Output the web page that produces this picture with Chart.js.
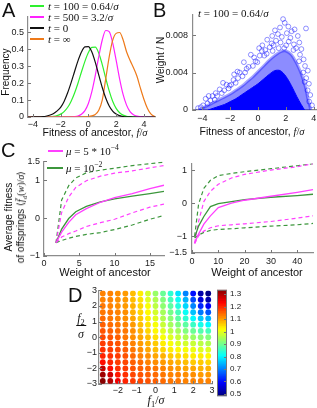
<!DOCTYPE html>
<html>
<head>
<meta charset="utf-8">
<script src="https://cdn.jsdelivr.net/npm/chart.js@4.4.0/dist/chart.umd.min.js"></script>
<style>
body{margin:0;width:317px;height:408px;position:relative;overflow:hidden;background:#fff;font-family:'Liberation Sans',Arial,sans-serif;color:#111}
canvas{position:absolute}
.t{position:absolute;white-space:nowrap;line-height:1}
.c{transform:translate(-50%,-50%)}
.lc{transform:translate(0,-50%)}
.r{transform:translate(-50%,-50%) rotate(-90deg)}
.m{font-family:'Liberation Serif','Times New Roman',serif}
.L{position:absolute;font-size:20px;line-height:1}
.ln{position:absolute;height:2px}
sub,sup{font-size:70%;line-height:0}
</style>
</head>
<body>
<div class="L" style="left:2px;top:0px">A</div>
<div class="L" style="left:153px;top:0px">B</div>
<div class="L" style="left:1px;top:140px">C</div>
<div class="L" style="left:68px;top:285px">D</div>

<!-- panel A legend -->
<div class="ln" style="left:30px;top:5px;width:14px;background:#2ef02e"></div>
<div class="t m lc" style="left:48px;top:6px;font-size:11px"><i>t</i> = 100 = 0.64/<i>σ</i></div>
<div class="ln" style="left:30px;top:16px;width:14px;background:#ff22ff"></div>
<div class="t m lc" style="left:48px;top:17px;font-size:11px"><i>t</i> = 500 = 3.2/<i>σ</i></div>
<div class="ln" style="left:30px;top:27px;width:14px;background:#111"></div>
<div class="t m lc" style="left:48px;top:28px;font-size:11px"><i>t</i> = 0</div>
<div class="ln" style="left:30px;top:38px;width:14px;background:#ee7a1a"></div>
<div class="t m lc" style="left:48px;top:39px;font-size:11px"><i>t</i> = ∞</div>

<div class="t r" style="left:6px;top:72px;font-size:10px">Frequency</div>
<div class="t c" style="left:95px;top:133px;font-size:10.5px">Fitness of ancestor, <span class="m"><i>f</i>/<i>σ</i></span></div>

<!-- panel B -->
<div class="t m lc" style="left:198px;top:13px;font-size:11px"><i>t</i> = 100 = 0.64/<i>σ</i></div>
<div class="t r" style="left:161px;top:60px;font-size:10px">Weight / N</div>
<div class="t c" style="left:252px;top:132px;font-size:10.5px">Fitness of ancestor, <span class="m"><i>f</i>/<i>σ</i></span></div>

<!-- panel C -->
<div class="ln" style="left:48px;top:150px;width:15px;height:1.5px;background:#ff40ff"></div>
<div class="t m lc" style="left:66px;top:151px;font-size:11px"><i>μ</i> = 5 * 10<sup>−4</sup></div>
<div class="ln" style="left:47px;top:167px;width:16px;background:#3c963c"></div>
<div class="t m lc" style="left:66px;top:168px;font-size:11px"><i>μ</i> = 10<sup>−2</sup></div>
<div class="t r" style="left:9px;top:217px;font-size:10px">Average fitness</div>
<div class="t r" style="left:21px;top:217px;font-size:10px">of offsprings <span class="m">⟨<i>f̄</i><sub>d</sub>(<i>w</i>)/<i>σ</i>⟩</span></div>
<div class="t c" style="left:105px;top:272px;font-size:11px">Weight of ancestor</div>
<div class="t c" style="left:257px;top:272px;font-size:11px">Weight of ancestor</div>

<!-- panel D -->
<div class="t m c" style="left:81px;top:326px;font-size:12px;text-align:center">
  <div style="border-bottom:1px solid #111;padding:0 1px 1px"><i>f</i><sub>2</sub></div>
  <div style="padding-top:2px"><i>σ</i></div>
</div>
<div class="t m c" style="left:156px;top:400px;font-size:12px"><i>f</i><sub>1</sub>/<i>σ</i></div>

<script>
// ---------- data ----------
// panel A: frequency of ancestor fitness
var fitX = [-4.5,-4.25,-4,-3.75,-3.5,-3.25,-3,-2.75,-2.5,-2.25,-2,-1.75,-1.5,-1.25,-1,-0.75,-0.5,-0.25,0,0.25,0.5,0.75,1,1.25,1.5,1.75,2,2.25,2.5,2.75,3,3.25,3.5,3.75,4,4.25,4.5,4.75,5];
var freqT0   = [0,0.0001,0.0002,0.0005,0.001,0.002,0.006,0.012,0.021,0.036,0.057,0.092,0.141,0.201,0.267,0.331,0.383,0.413,0.415,0.383,0.322,0.247,0.174,0.112,0.065,0.035,0.017,0.008,0.003,0.001,0.0004,0,0,0,0,0,0,0,0];
var freqT100 = [0,0,0,0,0.0001,0.0003,0.0007,0.0017,0.004,0.0085,0.017,0.032,0.056,0.092,0.140,0.199,0.265,0.328,0.380,0.410,0.412,0.376,0.309,0.229,0.154,0.093,0.051,0.025,0.011,0.004,0.0015,0.0005,0,0,0,0,0,0,0];
var freqT500 = [0,0,0,0,0,0,0,0,0,0,0,0,0,0,0.002,0.006,0.016,0.038,0.080,0.150,0.246,0.357,0.454,0.510,0.503,0.437,0.335,0.225,0.133,0.070,0.032,0.013,0.005,0.002,0.0005,0,0,0,0];
var freqTinf = [0,0,0,0,0,0,0,0,0,0,0,0,0,0,0,0,0,0.001,0.003,0.007,0.015,0.040,0.100,0.225,0.355,0.452,0.493,0.498,0.455,0.385,0.335,0.290,0.240,0.170,0.105,0.052,0.018,0.004,0.001];

// panel B: weight vs fitness cloud (dense core, halo, sparse circles)
var bCoreX = [-3.6,-3.2,-2.8,-2.4,-2,-1.6,-1.2,-0.8,-0.4,0,0.4,0.8,1.2,1.6,2,2.4,2.8,3.1,3.35];
var bCoreY = [0,0.0002,0.0004,0.0006,0.0009,0.0012,0.0016,0.0020,0.0024,0.0028,0.0033,0.0038,0.0042,0.0042,0.0036,0.0026,0.0014,0.0006,0];
var bHaloX = [-4.3,-4,-3.6,-3.2,-2.8,-2.4,-2,-1.6,-1.2,-0.8,-0.4,0,0.4,0.8,1.2,1.6,2,2.4,2.8,3.1,3.4,3.6,3.8];
var bHaloY = [0,0.0002,0.0005,0.0008,0.0011,0.0014,0.0017,0.0021,0.0025,0.0030,0.0035,0.0041,0.0047,0.0053,0.0058,0.0062,0.0063,0.0059,0.0049,0.0039,0.0025,0.0011,0];
var bOutX = [1.80,1.92,1.22,1.58,2.18,2.42,2.63,3.45,1.02,1.43,1.71,2.07,2.33,2.86,0.66,0.98,1.29,1.62,2.21,2.58,2.97,3.12,0.31,0.52,0.84,1.12,2.74,3.02,3.28,3.38,3.58,3.47,3.66,3.57,3.76,3.68,3.88,
             0.12,-0.18,-0.37,-0.68,-0.93,-1.12,-1.44,-1.61,-1.93,-2.12,-2.43,-2.61,-2.94,-3.12,-3.42,-3.63,-3.95,-4.12,-4.32,-3.77,-3.27,-2.76,-2.27,-1.77,-1.32,-0.82,-0.28,0.27,
             -2.52,-1.48,-0.52,0.08,-3.55,-1.02,0.62,1.48,2.55,3.25,-2.05,-0.05,1.05,2.02,2.95,-3.05,-1.72,0.45,1.88,3.35];
var bOutY = [0.0097,0.0093,0.0085,0.0088,0.0089,0.0084,0.0086,0.0087,0.0079,0.0081,0.0078,0.0082,0.0077,0.0079,0.0075,0.0071,0.0074,0.0072,0.0073,0.0070,0.0072,0.0065,0.0069,0.0064,0.0067,0.0069,0.0066,0.0059,0.0054,0.0047,0.0042,0.0034,0.0028,0.0021,0.0016,0.0009,0.0005,
             0.0058,0.0052,0.0047,0.0046,0.0040,0.0036,0.0034,0.0029,0.0027,0.0023,0.0021,0.0018,0.0015,0.0011,0.0010,0.0007,0.0005,0.0003,0.0002,0.0012,0.0015,0.0022,0.0027,0.0032,0.0040,0.0044,0.0056,0.0063,
             0.0029,0.0041,0.0059,0.0066,0.0015,0.0051,0.0060,0.0066,0.0064,0.0040,0.0026,0.0051,0.0063,0.0069,0.0052,0.0018,0.0038,0.0058,0.0066,0.0030];

// panel C left: mutation rates, weights up to 17
var cLeftW = [1.7,2.5,3.5,4.5,6,8,10,12.5,15,17];
var cLeftMagMean = [-0.65,-0.37,-0.11,0.09,0.25,0.42,0.54,0.65,0.78,0.87];
var cLeftGrnMean = [-0.65,-0.29,-0.01,0.17,0.31,0.43,0.51,0.58,0.65,0.71];
var cLeftMagHi   = [-0.65,0.15,0.56,0.81,0.99,1.11,1.19,1.25,1.33,1.39];
var cLeftGrnHi   = [-0.65,0.48,0.86,1.06,1.20,1.27,1.32,1.39,1.44,1.48];
var cLeftMagLo   = [-0.65,-0.50,-0.41,-0.34,-0.22,-0.12,-0.03,0.14,0.29,0.37];
var cLeftGrnLo   = [-0.65,-0.59,-0.53,-0.48,-0.43,-0.38,-0.30,-0.18,-0.03,0.07];

// panel C right: weights up to 46
var cRightW = [1,2.5,4.5,7,10,15,20,30,40,46];
var cRightMagMean = [-1.20,-0.93,-0.63,-0.38,-0.13,0.00,0.09,0.21,0.33,0.41];
var cRightGrnMean = [-1.03,-0.69,-0.40,-0.10,-0.01,0.05,0.11,0.18,0.23,0.27];
var cRightMagHi   = [-1.20,-0.55,0.05,0.36,0.57,0.76,0.87,1.00,1.10,1.19];
var cRightGrnHi   = [-1.00,-0.03,0.45,0.69,0.83,0.90,0.95,1.04,1.13,1.19];
var cRightMagLo   = [-1.22,-0.98,-0.84,-0.74,-0.68,-0.65,-0.62,-0.55,-0.45,-0.38];
var cRightGrnLo   = [-1.05,-0.96,-0.88,-0.82,-0.79,-0.77,-0.74,-0.69,-0.65,-0.61];

// panel D: grid of (f1, f2) values, rows from f2 = 2.8 down to -2.8
var f1Grid = [-2.8,-2.4,-2,-1.6,-1.2,-0.8,-0.4,0,0.4,0.8,1.2,1.6,2,2.4,2.8];
var f2Grid = [2.8,2.4,2,1.6,1.2,0.8,0.4,0,-0.4,-0.8,-1.2,-1.6,-2,-2.4,-2.8];
var dValues = [
  [1.12,1.12,1.11,1.10,1.07,1.03,0.98,0.93,0.89,0.84,0.78,0.70,0.60,0.52,0.49],
  [1.12,1.12,1.11,1.10,1.07,1.04,0.99,0.95,0.91,0.86,0.81,0.74,0.65,0.56,0.52],
  [1.13,1.12,1.11,1.10,1.08,1.05,1.01,0.96,0.92,0.88,0.83,0.77,0.70,0.62,0.58],
  [1.13,1.13,1.12,1.11,1.08,1.05,1.02,0.98,0.94,0.90,0.86,0.81,0.75,0.69,0.66],
  [1.14,1.13,1.12,1.11,1.09,1.06,1.03,0.99,0.95,0.92,0.88,0.84,0.80,0.76,0.74],
  [1.15,1.14,1.13,1.12,1.10,1.07,1.04,1.01,0.97,0.94,0.91,0.88,0.85,0.82,0.80],
  [1.16,1.15,1.14,1.13,1.11,1.08,1.05,1.02,0.99,0.96,0.94,0.91,0.89,0.87,0.86],
  [1.17,1.16,1.15,1.13,1.11,1.09,1.07,1.04,1.01,0.99,0.97,0.95,0.93,0.92,0.91],
  [1.18,1.17,1.16,1.14,1.12,1.10,1.08,1.06,1.03,1.01,0.99,0.98,0.97,0.96,0.95],
  [1.19,1.18,1.17,1.15,1.13,1.11,1.09,1.07,1.05,1.03,1.02,1.01,1.00,0.99,0.99],
  [1.20,1.19,1.18,1.16,1.14,1.12,1.11,1.09,1.08,1.06,1.05,1.04,1.03,1.03,1.02],
  [1.22,1.20,1.18,1.17,1.15,1.14,1.12,1.11,1.10,1.09,1.08,1.07,1.06,1.06,1.05],
  [1.28,1.22,1.19,1.18,1.16,1.15,1.14,1.13,1.12,1.11,1.10,1.09,1.09,1.08,1.08],
  [1.31,1.27,1.21,1.19,1.17,1.16,1.15,1.14,1.13,1.12,1.12,1.11,1.11,1.10,1.10],
  [1.33,1.29,1.24,1.20,1.18,1.17,1.16,1.15,1.14,1.13,1.13,1.12,1.12,1.12,1.12]
];
var cbMin = 0.482, cbMax = 1.336;
var cbTicks = [0.5,0.6,0.7,0.8,0.9,1,1.1,1.2,1.3];

// ---------- helpers ----------
var AX = '#8c8c8c';
function fmt(v) { return v < 0 ? '\u2212' + (-v) : '' + v; }
function pts(xs, ys) { return xs.map(function (x, i) { return { x: x, y: ys[i] }; }); }
function jet(t) {
  t = Math.max(0, Math.min(1, t));
  var f = function (x) { return Math.round(255 * Math.max(0, Math.min(1, 1.5 - Math.abs(x)))); };
  return 'rgb(' + f(4 * t - 3) + ',' + f(4 * t - 2) + ',' + f(4 * t - 1) + ')';
}

// small inward tick marks, matlab style
var inTicks = {
  id: 'inTicks',
  afterDatasetsDraw: function (chart) {
    var ctx = chart.ctx, a = chart.chartArea;
    ctx.save();
    ctx.strokeStyle = '#777';
    ctx.lineWidth = 1;
    Object.values(chart.scales).forEach(function (s) {
      if (s.options.display === false) return;
      s.ticks.forEach(function (t) {
        var p = Math.round(s.getPixelForValue(t.value)) + 0.5;
        ctx.beginPath();
        if (s.isHorizontal()) { ctx.moveTo(p, a.bottom); ctx.lineTo(p, a.bottom - 3); }
        else if (s.position === 'right') { ctx.moveTo(a.right, p); ctx.lineTo(a.right - 3, p); }
        else { ctx.moveTo(a.left, p); ctx.lineTo(a.left + 3, p); }
        ctx.stroke();
      });
    });
    ctx.restore();
  }
};

function axis(min, max, ticks, pad, horiz, size, pos) {
  return {
    type: 'linear', min: min, max: max, position: pos,
    afterBuildTicks: function (s) { s.ticks = ticks.map(function (v) { return { value: v }; }); },
    afterFit: function (s) { if (horiz) s.height = size; else s.width = size; },
    grid: { display: false, drawTicks: false },
    border: { display: true, color: AX, width: 1.2 },
    ticks: { padding: pad, autoSkip: false, maxRotation: 0, callback: function (v) { return fmt(v); } }
  };
}

function panel(box, m, type, data, scales, extra) {
  var c = document.createElement('canvas');
  var w = box.r - box.l + m.l + m.r, h = box.b - box.t + m.t + m.b;
  c.width = w; c.height = h;
  c.style.left = (box.l - m.l) + 'px'; c.style.top = (box.t - m.t) + 'px';
  c.style.width = w + 'px'; c.style.height = h + 'px';
  document.body.insertBefore(c, document.body.firstChild);
  return new Chart(c, {
    type: type,
    data: data,
    options: {
      responsive: false, animation: false, devicePixelRatio: 1,
      layout: { padding: m.pad },
      scales: scales,
      plugins: { legend: { display: false }, tooltip: { enabled: false } }
    },
    plugins: [inTicks].concat(extra || [])
  });
}

Chart.defaults.font.family = "'Liberation Sans', Arial, sans-serif";
Chart.defaults.font.size = 9;
Chart.defaults.color = '#1a1a1a';

function curve(xs, ys, color, width, dash) {
  return { data: pts(xs, ys), showLine: true, borderColor: color, borderWidth: width, borderDash: dash || [],
           pointRadius: 0, fill: false, cubicInterpolationMode: 'monotone' };
}
function seg(xs, ys, color, width, dash) {
  return { data: pts(xs, ys), showLine: true, borderColor: color, borderWidth: width, borderDash: dash || [],
           pointRadius: 0, fill: false, tension: 0 };
}

// ---------- panel A ----------
panel({ l: 28, t: 13, r: 155, b: 117 }, { l: 28, t: 6, r: 6, b: 16, pad: { left: 0, top: 6, right: 6, bottom: 0 } }, 'scatter', {
  datasets: [
    curve(fitX, freqT0, '#111111', 1.2),
    curve(fitX, freqTinf, '#ee7a1a', 1.2),
    curve(fitX, freqT500, '#ff22ff', 1.2),
    curve(fitX, freqT100, '#2ef02e', 1.2)
  ]
}, {
  x: axis(-4.35, 4.8, [-4, -2, 0, 2, 4], 2, true, 16),
  y: axis(0, 0.593, [0, 0.1, 0.2, 0.3, 0.4, 0.5], 4, false, 28)
});

// ---------- panel B ----------
panel({ l: 193, t: 10, r: 316, b: 110 }, { l: 36, t: 6, r: 6, b: 16, pad: { left: 0, top: 6, right: 6, bottom: 0 } }, 'scatter', {
  datasets: [
    { data: pts(bOutX, bOutY), pointRadius: 2.4, pointBorderWidth: 0.8, pointBorderColor: 'rgba(0,0,255,0.55)', pointBackgroundColor: 'rgba(0,0,0,0)' },
    { data: pts(bCoreX, bCoreY), showLine: true, tension: 0.3, borderColor: '#0000ff', borderWidth: 1, backgroundColor: '#0000ff', fill: 'origin', pointRadius: 0 },
    { data: pts(bHaloX, bHaloY), showLine: true, tension: 0.3, borderColor: 'rgba(0,0,255,0.35)', borderWidth: 3, backgroundColor: 'rgba(0,0,255,0.45)', fill: 'origin', pointRadius: 0 }
  ]
}, {
  x: axis(-4.68, 4.17, [-4, -2, 0, 2, 4], 3, true, 16),
  y: axis(0, 0.0102, [0, 0.004, 0.008], 5, false, 36)
});

// ---------- panel C left ----------
var MAG = '#ff40ff', GRN = '#3c963c', DASH = [4, 3];
panel({ l: 44, t: 158, r: 164, b: 256 }, { l: 22, t: 6, r: 4, b: 14, pad: { left: 0, top: 6, right: 4, bottom: 0 } }, 'scatter', {
  datasets: [
    seg(cLeftW, cLeftMagMean, MAG, 1.3),
    seg(cLeftW, cLeftGrnMean, GRN, 1.3),
    seg(cLeftW, cLeftMagHi, MAG, 1.2, DASH),
    seg(cLeftW, cLeftGrnHi, GRN, 1.2, DASH),
    seg(cLeftW, cLeftMagLo, MAG, 1.2, DASH),
    seg(cLeftW, cLeftGrnLo, GRN, 1.2, DASH)
  ]
}, {
  x: axis(0, 17, [0, 5, 10, 15], 2, true, 14),
  y: axis(-1, 1.5, [-1, 0, 1, 1.5], 4, false, 22)
});

// ---------- panel C right ----------
panel({ l: 192, t: 159, r: 313, b: 253 }, { l: 26, t: 6, r: 4, b: 14, pad: { left: 0, top: 6, right: 4, bottom: 0 } }, 'scatter', {
  datasets: [
    seg(cRightW, cRightMagMean, MAG, 1.3),
    seg(cRightW, cRightGrnMean, GRN, 1.3),
    seg(cRightW, cRightMagHi, MAG, 1.2, DASH),
    seg(cRightW, cRightGrnHi, GRN, 1.2, DASH),
    seg(cRightW, cRightMagLo, MAG, 1.2, DASH),
    seg(cRightW, cRightGrnLo, GRN, 1.2, DASH)
  ]
}, {
  x: axis(0, 46, [0, 10, 20, 30, 40], 3, true, 14),
  y: axis(-1.5, 1.2, [-1.5, -1, 0, 1], 5, false, 26)
});

// ---------- panel D ----------
var dPts = [], dCols = [];
f2Grid.forEach(function (f2, r) {
  f1Grid.forEach(function (f1, k) {
    dPts.push({ x: f1, y: f2 });
    dCols.push(jet((dValues[r][k] - cbMin) / (cbMax - cbMin)));
  });
});
panel({ l: 99, t: 289, r: 212, b: 384 }, { l: 16, t: 6, r: 4, b: 10, pad: { left: 0, top: 6, right: 4, bottom: 0 } }, 'scatter', {
  datasets: [{ data: dPts, pointRadius: 2.9, pointBorderWidth: 0, pointBackgroundColor: dCols }]
}, {
  x: axis(-3, 3, [-2, -1, 0, 1, 2, 3], 1, true, 10),
  y: axis(-3, 3, [-3, -2, -1, 0, 1, 2, 3], 2, false, 16)
});

// ---------- colorbar ----------
var cbSets = [], cbN = 64;
for (var i = 0; i < cbN; i++) {
  var lo = cbMin + (cbMax - cbMin) * i / cbN;
  var hi = cbMin + (cbMax - cbMin) * (i + 1.05) / cbN;
  cbSets.push({ data: [[lo, Math.min(hi, cbMax)]], backgroundColor: jet((i + 0.5) / cbN), borderWidth: 0,
                grouped: false, barPercentage: 1, categoryPercentage: 1 });
}
var cbOutline = {
  id: 'cbOutline',
  afterDraw: function (chart) {
    var a = chart.chartArea, ctx = chart.ctx;
    ctx.save(); ctx.strokeStyle = '#777'; ctx.lineWidth = 1;
    ctx.strokeRect(a.left + 0.5, a.top + 0.5, a.right - a.left - 1, a.bottom - a.top - 1);
    ctx.restore();
  }
};
var cbY = axis(cbMin, cbMax, cbTicks, 3, false, 24, 'right');
cbY.border = { display: false };
cbY.ticks.font = { size: 8 };
panel({ l: 217, t: 287, r: 227, b: 399 }, { l: 0, t: 5, r: 24, b: 5, pad: { left: 0, top: 5, right: 0, bottom: 5 } }, 'bar', {
  labels: [''],
  datasets: cbSets
}, {
  x: { display: false },
  y: cbY
}, [cbOutline]);
</script>
</body>
</html>
